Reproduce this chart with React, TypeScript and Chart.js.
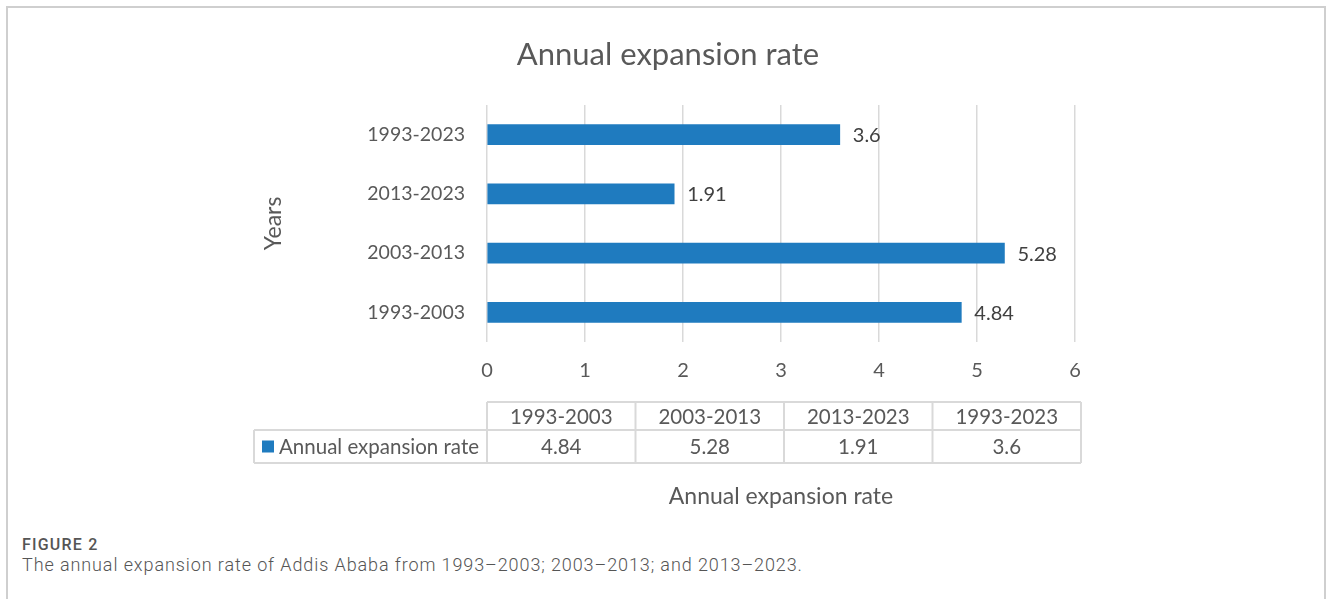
import React, { useEffect, useRef } from 'react';
import { Chart, registerables } from 'chart.js';

Chart.register(...registerables);

const categories: string[] = ['1993-2003', '2003-2013', '2013-2023', '1993-2023'];
const rates: number[] = [4.84, 5.28, 1.91, 3.6];
const rateLabels: string[] = ['4.84', '5.28', '1.91', '3.6'];
const xTicks: number[] = [0, 1, 2, 3, 4, 5, 6];
const seriesName = 'Annual expansion rate';
const chartTitle = 'Annual expansion rate';
const xTitle = 'Annual expansion rate';
const yTitle = 'Years';
const captionHead = 'FIGURE 2';
const captionText = 'The annual expansion rate of Addis Ababa from 1993\u20132003; 2003\u20132013; and 2013\u20132023.';

const FONT = 'Lato, "Open Sans", sans-serif';
const BAR = '#1f7bbf';
const TXT = '#595959';
const GRID = '#d9d9d9';

const valueLabelPlugin = {
  id: 'valueLabels',
  afterDatasetsDraw(chart: any) {
    const ctx = chart.ctx;
    const meta = chart.getDatasetMeta(0);
    ctx.save();
    ctx.font = `20px ${FONT}`;
    ctx.fillStyle = '#404040';
    ctx.textAlign = 'left';
    ctx.textBaseline = 'middle';
    meta.data.forEach((bar: any, i: number) => {
      ctx.fillText(rateLabels[i], bar.x + 13, bar.y + 1);
    });
    ctx.restore();
  },
};

const dataTablePlugin = {
  id: 'dataTable',
  afterDraw(chart: any) {
    const ctx = chart.ctx;
    const area = chart.chartArea;
    const x0 = area.left;
    const colW = 148.5;
    const labelLeft = 254;
    const yTop = area.bottom + 60;
    const yMid = area.bottom + 88;
    const yBot = area.bottom + 121;
    const n = categories.length;
    const xEnd = x0 + colW * n;
    ctx.save();
    ctx.strokeStyle = GRID;
    ctx.lineWidth = 2;
    ctx.beginPath();
    ctx.moveTo(x0, yTop); ctx.lineTo(xEnd, yTop);
    ctx.moveTo(labelLeft, yMid); ctx.lineTo(xEnd, yMid);
    ctx.moveTo(labelLeft, yBot); ctx.lineTo(xEnd, yBot);
    ctx.moveTo(labelLeft, yMid); ctx.lineTo(labelLeft, yBot);
    for (let i = 0; i <= n; i++) {
      const x = x0 + colW * i;
      ctx.moveTo(x, yTop); ctx.lineTo(x, yBot);
    }
    ctx.stroke();

    ctx.font = `20.5px ${FONT}`;
    ctx.fillStyle = TXT;
    ctx.textAlign = 'center';
    ctx.textBaseline = 'middle';
    for (let i = 0; i < n; i++) {
      const cx = x0 + colW * (i + 0.5);
      ctx.fillText(categories[i], cx, (yTop + yMid) / 2 + 1);
      ctx.fillText(rateLabels[i], cx, (yMid + yBot) / 2 + 1);
    }
    ctx.fillStyle = BAR;
    ctx.fillRect(labelLeft + 8, (yMid + yBot) / 2 - 6, 12, 12);
    ctx.fillStyle = TXT;
    ctx.textAlign = 'left';
    ctx.fillText(seriesName, labelLeft + 25, (yMid + yBot) / 2 + 1);
    ctx.restore();
  },
};

export default function App() {
  const ref = useRef<HTMLCanvasElement | null>(null);

  useEffect(() => {
    if (!ref.current) return;
    const chart = new Chart(ref.current, {
      type: 'bar',
      data: {
        labels: categories,
        datasets: [
          {
            label: seriesName,
            data: rates,
            backgroundColor: BAR,
            borderWidth: 0,
            barThickness: 20,
          },
        ],
      },
      options: {
        indexAxis: 'y',
        animation: false,
        responsive: false,
        maintainAspectRatio: false,
        layout: { padding: { left: 261, right: 255, top: 0, bottom: 0 } },
        plugins: {
          legend: { display: false },
          tooltip: { enabled: false },
          title: {
            display: true,
            text: chartTitle,
            color: TXT,
            font: { family: FONT, size: 31, weight: 'normal', lineHeight: 1.2 },
            padding: { top: 36.4, bottom: 31.4 },
          },
        },
        scales: {
          x: {
            type: 'linear',
            min: 0,
            max: 6,
            afterBuildTicks: (scale: any) => {
              scale.ticks = xTicks.map((v) => ({ value: v }));
            },
            afterFit: (scale: any) => {
              scale.height = 188;
            },
            grid: { color: GRID, lineWidth: 1.5, drawTicks: false },
            border: { display: false },
            ticks: {
              color: TXT,
              padding: 17,
              font: { family: FONT, size: 20 },
            },
            title: {
              display: true,
              text: xTitle,
              color: TXT,
              font: { family: FONT, size: 23, lineHeight: 1.2 },
              padding: { top: 0, bottom: 19.2 },
            },
          },
          y: {
            reverse: true,
            afterFit: (scale: any) => {
              scale.width = 226;
            },
            grid: { display: false, drawTicks: false },
            border: { display: false },
            ticks: {
              color: TXT,
              padding: 22,
              font: { family: FONT, size: 19.5 },
            },
            title: {
              display: true,
              text: yTitle,
              color: TXT,
              font: { family: FONT, size: 23, lineHeight: 1 },
              padding: { top: 1.5, bottom: 0 },
            },
          },
        },
      },
      plugins: [valueLabelPlugin, dataTablePlugin],
    } as any);
    return () => chart.destroy();
  }, []);

  return (
    <div style={{ position: 'fixed', left: 0, top: 0, width: 1330, height: 599, background: '#fff', overflow: 'hidden' }}>
      <div
        style={{
          position: 'absolute',
          left: 6,
          top: 6,
          width: 1320,
          height: 620,
          borderLeft: '2px solid #cfcfcf',
          borderTop: '2px solid #cfcfcf',
          borderRight: '2px solid #cfcfcf',
          boxSizing: 'border-box',
        }}
      />
      <canvas ref={ref} width={1330} height={530} style={{ position: 'absolute', left: 0, top: 0, width: 1330, height: 530 }} />
      <div
        style={{
          position: 'absolute',
          left: 22,
          top: 536,
          fontFamily: 'Roboto, "Open Sans", sans-serif',
          fontSize: 16,
          fontWeight: 500,
          letterSpacing: '1.2px',
          color: '#555',
          lineHeight: '18px',
        }}
      >
        {captionHead}
      </div>
      <div
        style={{
          position: 'absolute',
          left: 22,
          top: 554,
          fontFamily: 'Roboto, "Open Sans", sans-serif',
          fontSize: 18,
          fontWeight: 300,
          letterSpacing: '0.9px',
          color: '#555',
          lineHeight: '22px',
          whiteSpace: 'nowrap',
        }}
      >
        {captionText}
      </div>
    </div>
  );
}
